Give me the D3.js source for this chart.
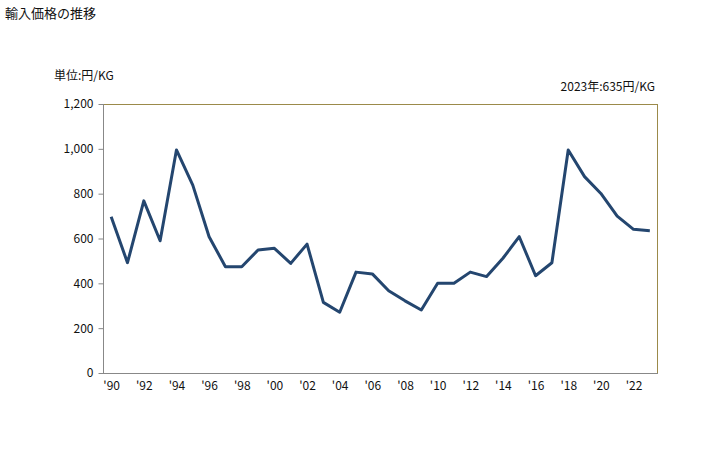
<!DOCTYPE html>
<html><head><meta charset="utf-8">
<script src="https://cdn.jsdelivr.net/npm/d3@7"></script>
<style>body{margin:0;background:#fff;} text{font-family:"Noto Sans CJK JP","Noto Sans",sans-serif;}</style>
</head><body>
<svg id="c" width="728" height="450"></svg>
<script>
const years = d3.range(1990, 2024);
const values = [697,492,768,590,995,838,608,474,474,549,556,489,575,315,271,450,442,367,322,281,400,400,450,430,512,608,434,492,995,876,801,700,641,635];
const yTicks = [0,200,400,600,800,1000,1200];
const xTickYears = d3.range(1990, 2024, 2);
const title = "輸入価格の推移";
const unitLabel = "単位:円/KG";
const note = "2023年:635円/KG";

const svg = d3.select("#c");
const L = 103, R = 658, T = 104, B = 373;
const x = d3.scalePoint().domain(years).range([L, R]).padding(0.5);
const y = d3.scaleLinear().domain([0, 1200]).range([B, T]);

svg.append("text").attr("x", 5).attr("y", 18).attr("font-size", 13).attr("fill", "#111").text(title);
svg.append("text").attr("x", 54).attr("y", 80).attr("font-size", 12).attr("fill", "#111").text(unitLabel);
svg.append("text").attr("x", 655).attr("y", 91).attr("font-size", 12).attr("fill", "#111").attr("text-anchor", "end").text(note);

// frame top/right
svg.append("line").attr("x1", L).attr("x2", R).attr("y1", T + 0.5).attr("y2", T + 0.5).attr("stroke", "#9b8a4a").attr("stroke-width", 1);
svg.append("line").attr("x1", R - 0.5).attr("x2", R - 0.5).attr("y1", T).attr("y2", B).attr("stroke", "#9b8a4a").attr("stroke-width", 1);

// y axis
const ya = svg.append("g").attr("transform", `translate(${L + 0.5},0)`)
  .call(d3.axisLeft(y).tickValues(yTicks).tickSize(5).tickPadding(5).tickFormat(d3.format(",")));
ya.select(".domain").attr("stroke", "#888").attr("d", `M0,${T}V${B}`);
ya.selectAll(".tick line").attr("stroke", "#888");
ya.selectAll(".tick text").attr("font-size", 12).attr("fill", "#111").attr("font-family", "'Noto Sans CJK JP','Noto Sans',sans-serif");

// x axis
const xa = svg.append("g").attr("transform", `translate(0,${B + 0.5})`)
  .call(d3.axisBottom(x).tickValues(xTickYears).tickSize(0).tickPadding(8).tickFormat(d => "'" + String(d).slice(2)));
xa.select(".domain").attr("stroke", "#888").attr("d", `M${L},0H${R}`);
xa.selectAll(".tick text").attr("font-size", 12).attr("fill", "#111").attr("font-family", "'Noto Sans CJK JP','Noto Sans',sans-serif");

// line
const line = d3.line().x((d, i) => x(years[i])).y(d => y(d));
svg.append("path").datum(values).attr("d", line).attr("fill", "none")
  .attr("stroke", "#24466f").attr("stroke-width", 3).attr("stroke-linejoin", "round");
</script>
</body></html>
